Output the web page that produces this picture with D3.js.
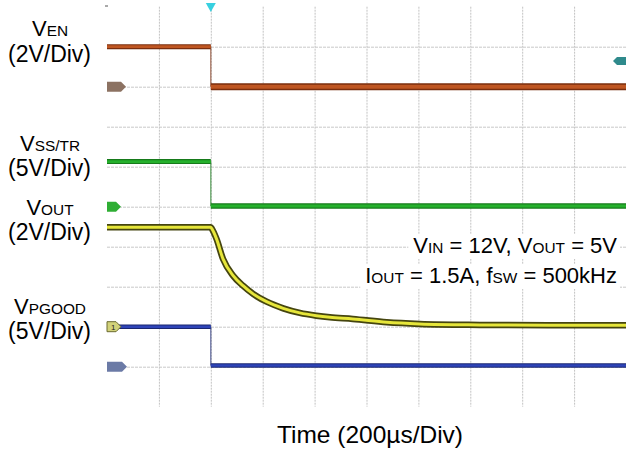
<!DOCTYPE html>
<html><head><meta charset="utf-8">
<script src="https://cdn.jsdelivr.net/npm/d3@7"></script>
<style>body{margin:0;background:#fff} svg{display:block}</style>
</head><body><svg id="c" width="626" height="450"></svg>
<script>
// ---------- data ----------
const channelNames = ["EN", "SS/TR", "OUT", "PGOOD"];
const voltsPerDiv = [2, 5, 2, 5];
const groundDiv = [8, 5, 2, 1];              // ground reference in screen divisions
const stepTimes = [-400, 0, 1600];           // µs relative to trigger: start, edge, end
const venLevels = [2.0, 0.0];                // before / after edge (V)
const vssLevels = [5.65, 0.1];
const pgoodLevels = [5.0, 0.15];
const voutTime  = [-400, 0, 4, 22, 47, 86, 124, 163, 215, 279, 343, 407, 459, 547, 678, 805, 1037, 1300, 1600];
const voutVolts = [4.97, 4.97, 4.9, 4.39, 3.39, 2.55, 2.05, 1.64, 1.25, 0.92, 0.69, 0.55, 0.47, 0.39, 0.22, 0.14, 0.09, 0.07, 0.07];
const timeDivUs = 200;
const gridDivs = 10;
const noteLines = [
  [["V",0],["IN",1],[" = 12V, V",0],["OUT",1],[" = 5V",0]],
  [["I",0],["OUT",1],[" = 1.5A, f",0],["SW",1],[" = 500kHz",0]]
];
const timeLabel = "Time (200\u00B5s/Div)";

// ---------- layout ----------
const svg = d3.select("#c");
const L = 107, R = 626, T = 6.7, B = 406.7;
const font = "'Liberation Sans', Arial, sans-serif";
const x = d3.scaleLinear().domain([stepTimes[0], stepTimes[0] + gridDivs * timeDivUs]).range([L, R]);
const yDiv = d3.scaleLinear().domain([0, gridDivs]).range([B, T]);
const yCh = (ch, v) => yDiv(groundDiv[ch] + v / voltsPerDiv[ch]);

// grid via axes
const xt = d3.range(1, gridDivs).map(k => stepTimes[0] + k * timeDivUs);
const gx = svg.append("g").attr("transform", `translate(0,${T})`)
  .call(d3.axisBottom(x).tickValues(xt).tickSize(B - T).tickFormat(""));
gx.select(".domain").remove();
gx.selectAll("line").attr("stroke", "#c2c2c2").attr("stroke-dasharray", "2,1");
const yt = d3.range(1, gridDivs);
const gy = svg.append("g").attr("transform", `translate(${L},0)`)
  .call(d3.axisRight(yDiv).tickValues(yt).tickSize(R - L).tickFormat(""));
gy.select(".domain").remove();
gy.selectAll("line").attr("stroke", "#c8c8c8").attr("stroke-dasharray", "3,1");

// ---------- traces ----------
const tr = svg.append("g");
function stepTrace(g, ch, levels, col, dark, wPre, wPost) {
  const line = d3.line().x(d => x(d[0])).y(d => yCh(ch, d[1]));
  const pre = [[stepTimes[0], levels[0]], [stepTimes[1], levels[0]]];
  const post = [[stepTimes[1], levels[1]], [stepTimes[2], levels[1]]];
  const edge = [[stepTimes[1], levels[0]], [stepTimes[1], levels[1]]];
  g.append("path").attr("d", line(edge)).attr("stroke", dark).attr("stroke-width", 1.2).attr("fill", "none").attr("opacity", 0.7);
  [[pre, wPre], [post, wPost]].forEach(([seg, w]) => {
    g.append("path").attr("d", line(seg)).attr("stroke", dark).attr("stroke-width", w).attr("fill", "none");
    g.append("path").attr("d", line(seg)).attr("stroke", col).attr("stroke-width", w * 0.55).attr("fill", "none");
  });
}
stepTrace(tr, 0, venLevels, "#bf5622", "#7a2e0e", 5, 7);
stepTrace(tr, 1, vssLevels, "#25b02c", "#167a1a", 5, 5.5);
stepTrace(tr, 3, pgoodLevels, "#2e44b8", "#1a2670", 4.5, 4.5);

// VOUT
const vline = d3.line().x((d, i) => x(voutTime[i])).y(d => yCh(2, d)).curve(d3.curveMonotoneX);
tr.append("path").attr("d", vline(voutVolts)).attr("stroke", "#45450f").attr("stroke-width", 6.5).attr("fill", "none");
tr.append("path").attr("d", vline(voutVolts)).attr("stroke", "#e6e63a").attr("stroke-width", 3).attr("fill", "none");

// ground markers (on top)
const mk = svg.append("g");
function marker(div, col, w, label, lcol, edge) {
  const yy = yDiv(div);
  mk.append("path")
    .attr("d", `M${L},${yy - 5}L${L + w - 5},${yy - 5}L${L + w},${yy}L${L + w - 5},${yy + 5}L${L},${yy + 5}Z`)
    .attr("fill", col).attr("stroke", edge || "none").attr("stroke-width", 1);
  if (label) mk.append("text").attr("x", L + 4).attr("y", yy + 3).attr("font-size", 8)
    .attr("font-family", font).attr("fill", lcol).text(label);
}
marker(groundDiv[0], "#8c7262", 19);
marker(groundDiv[1], "#2fae34", 14);
marker(groundDiv[2], "#d2d27a", 14, "1", "#222", "#6a6a30");
marker(groundDiv[3], "#6b7aa6", 20);

// trigger marker + level marker
svg.append("path").attr("d", `M${x(0) - 5},3L${x(0) + 5},3L${x(0)},12Z`).attr("fill", "#38d0e0");
svg.append("path").attr("d", `M${R},57L${R - 9},57L${R - 13},61L${R - 9},65L${R},65Z`).attr("fill", "#2f8a8c");
svg.append("line").attr("x1", 105).attr("x2", 108).attr("y1", 6).attr("y2", 6).attr("stroke", "#555");

// ---------- text ----------
function richText(g, xx, yy, parts, size, anchor) {
  const t = g.append("text").attr("x", xx).attr("y", yy).attr("font-family", font)
    .attr("font-size", size).attr("text-anchor", anchor).attr("fill", "#000");
  parts.forEach(([s, sub]) => t.append("tspan").attr("font-size", sub ? size * 0.7 : size).text(s));
  return t;
}
const labG = svg.append("g");
const labelRows = [[36, 62], [150.5, 176], [214.5, 240], [313.5, 339]];
const perDivText = voltsPerDiv.map(v => `(${v}V/Div)`);
channelNames.forEach((n, i) => {
  richText(labG, 50, labelRows[i][0], [["V", 0], [n, 1]], 22, "middle");
  richText(labG, 49.5, labelRows[i][1], [[perDivText[i], 0]], 23, "middle");
});

// annotation with white boxes
const noteG = svg.append("g");
const noteY = [253, 283];
noteLines.forEach((parts, i) => {
  const t = richText(noteG, 617, noteY[i], parts, 22, "end");
  const bb = t.node().getBBox();
  noteG.insert("rect", "text").attr("x", bb.x - 5).attr("y", bb.y + 1).attr("width", R - 6 - bb.x + 5)
    .attr("height", bb.height).attr("fill", "#fff");
});

svg.append("text").attr("x", 370).attr("y", 443).attr("text-anchor", "middle")
  .attr("font-family", font).attr("font-size", 24.5).attr("fill", "#000").text(timeLabel);
</script></body></html>
